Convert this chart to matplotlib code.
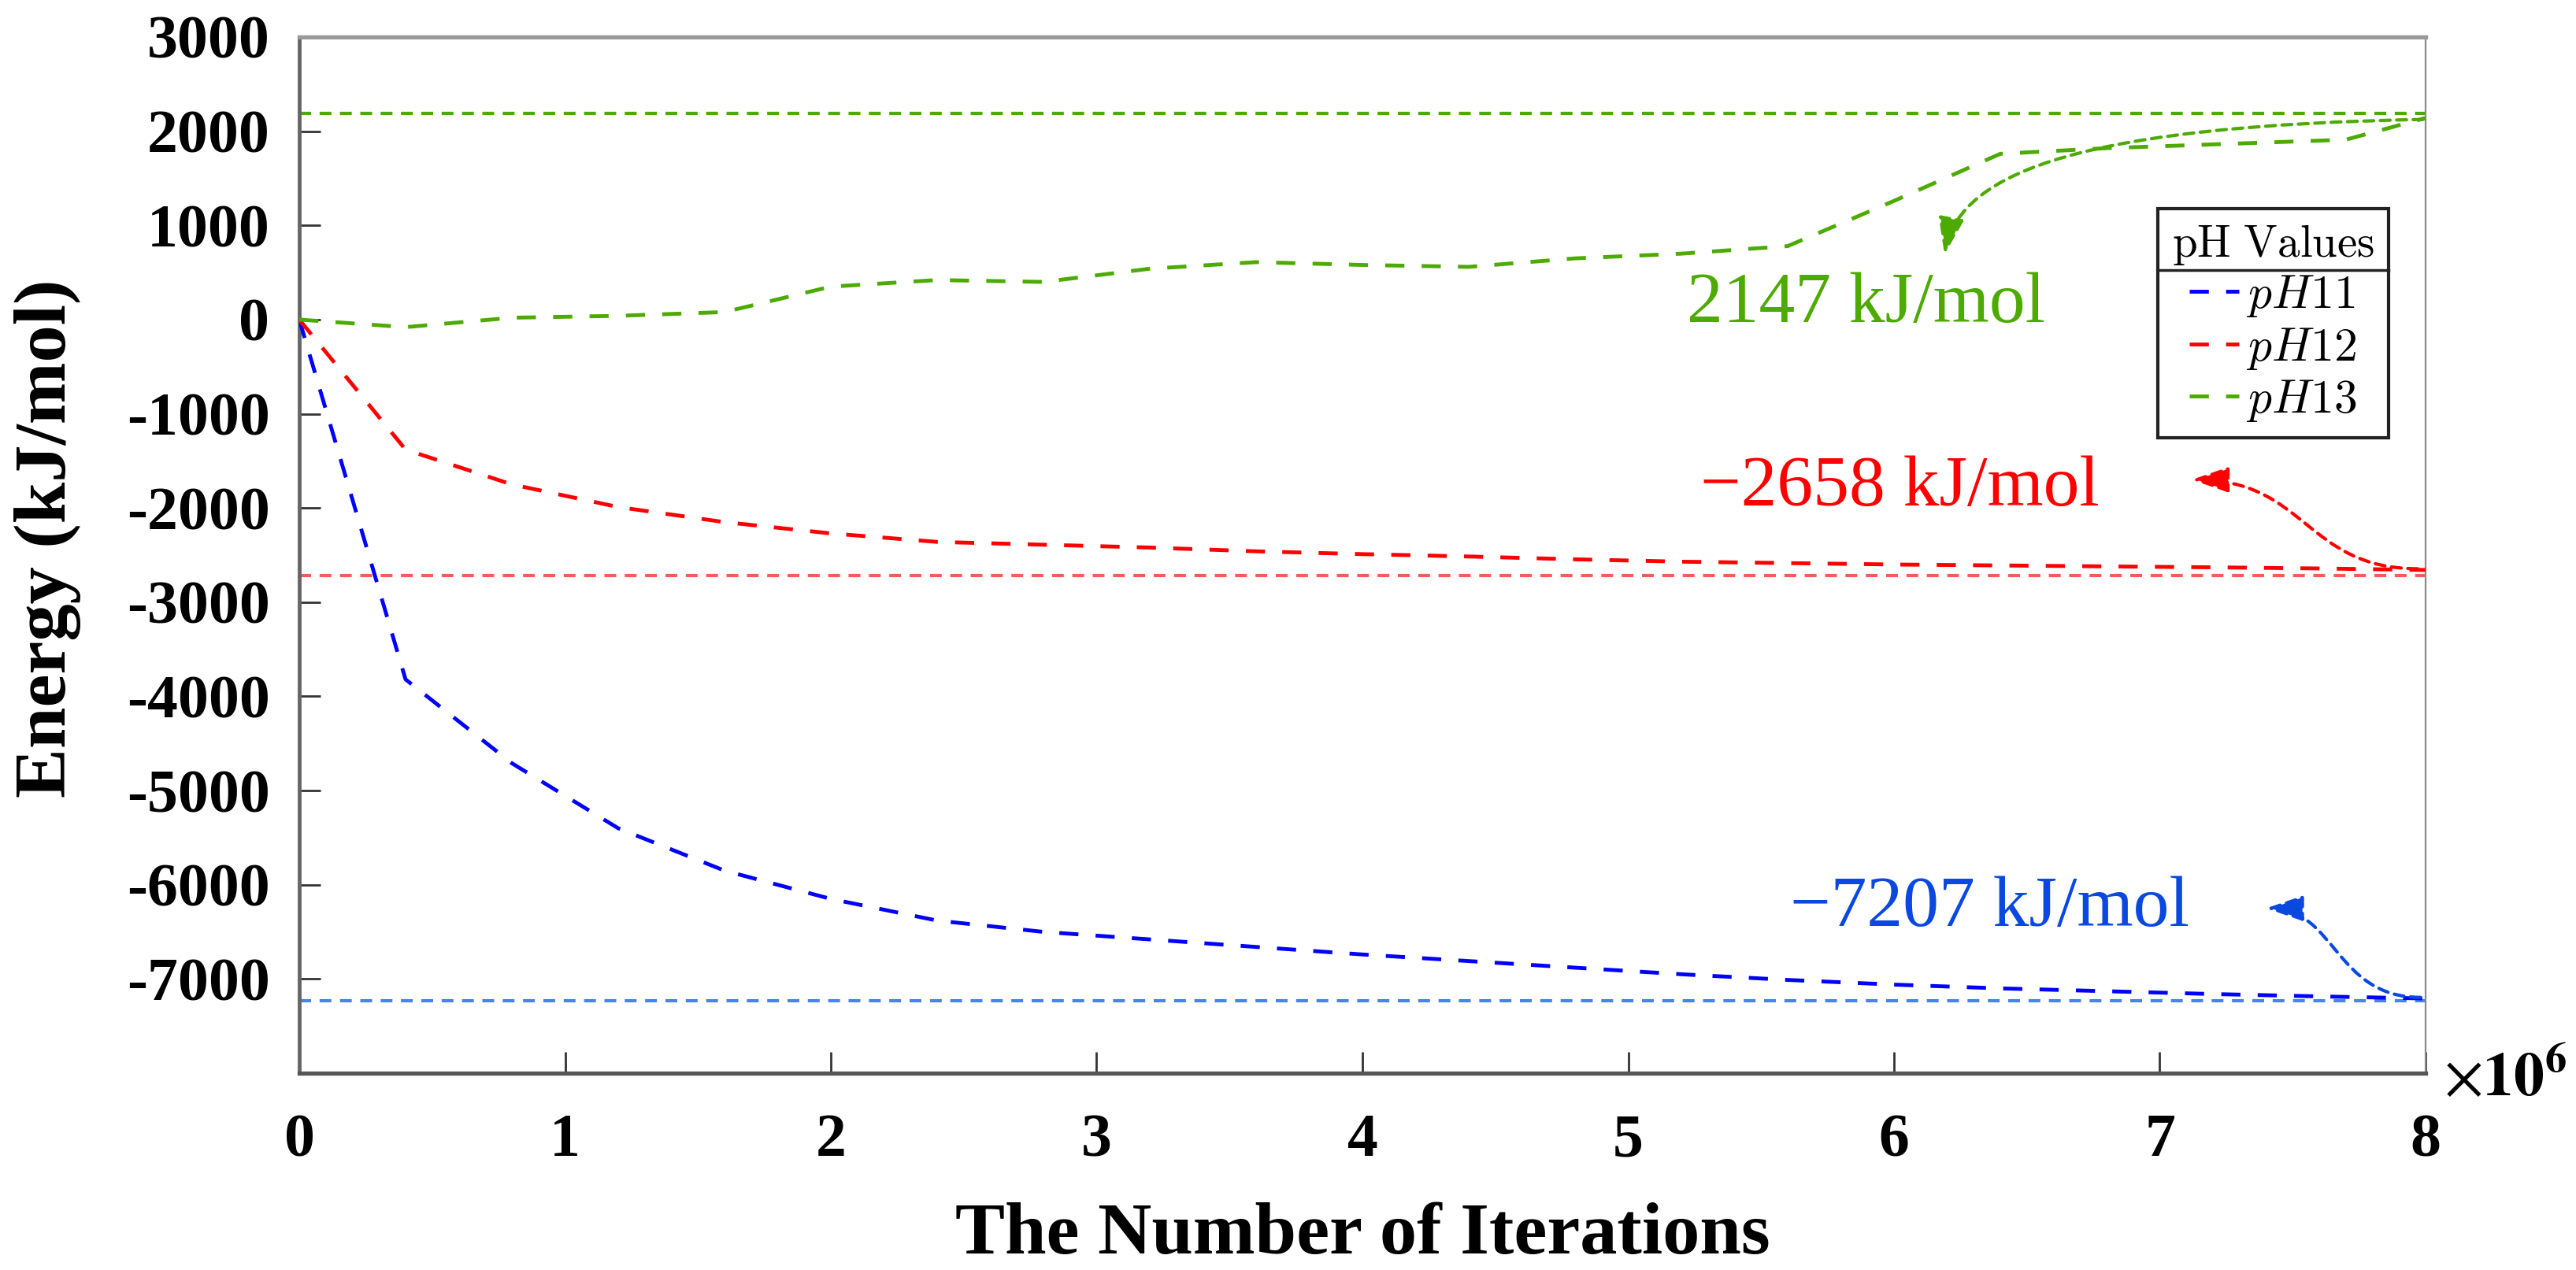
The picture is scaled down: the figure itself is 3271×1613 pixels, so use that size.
import matplotlib
matplotlib.use("Agg")
import matplotlib.pyplot as plt
from matplotlib.patches import FancyArrowPatch
from matplotlib.path import Path
from matplotlib.lines import Line2D
from matplotlib.font_manager import FontProperties

plt.rcParams['axes.unicode_minus'] = False
plt.rcParams['font.family'] = ['Liberation Serif', 'DejaVu Serif']

# ---------------- data (iterations in millions, energy in kJ/mol) ----------------
iters_ph11 = [0, 0.4, 0.8, 1.2, 1.6, 2.0, 2.4, 2.8, 3.2, 3.6, 4.0, 4.4, 4.8, 5.2, 5.6, 6.0, 6.4, 6.8, 7.2, 7.6, 8.0]
energy_ph11 = [0, -3820, -4710, -5400, -5850, -6150, -6380, -6500, -6580, -6660, -6740, -6810, -6880, -6950, -7010, -7060, -7100, -7130, -7160, -7185, -7207]

iters_ph12 = [0, 0.4, 0.8, 1.2, 1.6, 2.0, 2.4, 2.8, 3.2, 3.6, 4.0, 4.4, 4.8, 5.2, 5.6, 6.0, 6.4, 6.8, 7.2, 7.6, 8.0]
energy_ph12 = [0, -1380, -1750, -1990, -2150, -2270, -2360, -2390, -2420, -2460, -2490, -2515, -2545, -2570, -2585, -2600, -2610, -2620, -2630, -2642, -2658]

iters_ph13 = [0, 0.4, 0.8, 1.2, 1.6, 2.0, 2.4, 2.8, 3.2, 3.6, 4.0, 4.4, 4.8, 5.2, 5.6, 6.0, 6.4, 6.8, 7.2, 7.7, 8.0]
energy_ph13 = [0, -80, 20, 40, 80, 350, 420, 400, 540, 610, 580, 560, 650, 700, 780, 1260, 1760, 1820, 1860, 1910, 2140]

series_labels = ['$pH11$', '$pH12$', '$pH13$']
series_colors = ['#0000FF', '#FF0000', '#4CAA00']

# converged reference levels (dotted lines)
ref_levels = [-7235, -2720, 2193]
ref_colors = ['#4A84E6', '#FF5A5A', '#4CAA00']

# annotations
annot_texts = ['\u22127207 kJ/mol', '\u22122658 kJ/mol', '2147 kJ/mol']
annot_colors = ['#0A48E0', '#FF0000', '#4CAA00']
annot_text_pos = [(5.61, -6440), (5.27, -1970), (5.22, -30)]
# cubic bezier control points for the curved arrows (start -> tip)
arrow_ctrl = [
    [(7.98, -7195), (7.66, -7195), (7.66, -6250), (7.40, -6250)],
    [(7.97, -2645), (7.55, -2645), (7.55, -1700), (7.12, -1700)],
    [(7.99, 2125), (6.75, 2060), (6.25, 1600), (6.19, 690)],
]

x_ticks = [0, 1, 2, 3, 4, 5, 6, 7, 8]
y_ticks = [-7000, -6000, -5000, -4000, -3000, -2000, -1000, 0, 1000, 2000, 3000]
x_label = 'The Number of Iterations'
y_label = 'Energy (kJ/mol)'
legend_title = r'$\mathrm{pH\ Values}$'

# ---------------- figure ----------------
W, H = 3271, 1613
fig = plt.figure(figsize=(W / 100, H / 100), dpi=100)
L, R, T, B = 380, 3080, 47, 1363
ax = fig.add_axes([L / W, 1 - B / H, (R - L) / W, (B - T) / H])

for lv, c in zip(ref_levels, ref_colors):
    ax.axhline(lv, color=c, lw=3, ls=(0, (3.6, 2.6)), zorder=2)

lines = []
for xs, ys, lab, c in zip([iters_ph11, iters_ph12, iters_ph13],
                          [energy_ph11, energy_ph12, energy_ph13],
                          series_labels, series_colors):
    ln, = ax.plot(xs, ys, color=c, lw=3.5, ls=(0, (5, 4.5)), label=lab, zorder=3)
    lines.append(ln)

for txt, c, (tx, ty) in zip(annot_texts, annot_colors, annot_text_pos):
    ax.text(tx, ty, txt, color=c, fontsize=66, ha='left', va='baseline',
            family=['Liberation Serif', 'DejaVu Serif'])

for pts, c in zip(arrow_ctrl, annot_colors):
    p = Path(pts, [Path.MOVETO, Path.CURVE4, Path.CURVE4, Path.CURVE4])
    arr = FancyArrowPatch(path=p, arrowstyle='-|>,head_length=1.3,head_width=0.45',
                          mutation_scale=22, lw=3, ls=(0, (3, 2)), color=c, zorder=4)
    ax.add_patch(arr)

ax.set_xlim(0, 8)
ax.set_ylim(-8000, 3000)
ax.set_xticks(x_ticks)
ax.set_yticks(y_ticks)
ax.set_xticklabels([str(v) for v in x_ticks])
ax.set_yticklabels([str(v) for v in y_ticks])
ax.tick_params(axis='both', direction='in', length=19.5, width=2, color='#333333',
               labelsize=56, top=False, right=False)
ax.tick_params(axis='y', pad=27)
ax.tick_params(axis='x', pad=37)
for lab in ax.get_xticklabels() + ax.get_yticklabels():
    lab.set_fontweight('bold')

ax.spines['left'].set_color('#666666')
ax.spines['left'].set_linewidth(3.5)
ax.spines['bottom'].set_color('#555555')
ax.spines['bottom'].set_linewidth(3.8)
ax.spines['top'].set_color('#999999')
ax.spines['top'].set_linewidth(3.8)
ax.spines['right'].set_color('#8a8a8a')
ax.spines['right'].set_linewidth(1.6)

ax.set_xlabel(x_label, fontsize=68, fontweight='bold')
ax.xaxis.set_label_coords(0.5, (B - 1592) / (B - T))
ax.xaxis.label.set_va('baseline')
ax.set_ylabel(y_label, fontsize=68, fontweight='bold')
ax.yaxis.set_label_coords((83 - L) / (R - L), 0.516)
ax.yaxis.label.set_va('baseline')

ax.text(1 + (3103 - R) / (R - L), (B - 1392) / (B - T), r'$\times\mathbf{10^6}$',
        transform=ax.transAxes, fontsize=56, ha='left', va='baseline', math_fontfamily='stix')

leg_prop = FontProperties(size=43, math_fontfamily='cm')
leg = ax.legend(handles=lines, labels=series_labels, loc='upper left',
                bbox_to_anchor=(2740 / W, 1 - 265 / H), bbox_transform=fig.transFigure,
                borderaxespad=0, borderpad=0.3, handlelength=1.05, handletextpad=0.15,
                labelspacing=0.14, fancybox=False, prop=leg_prop, title=legend_title,
                title_fontproperties=FontProperties(size=41, math_fontfamily='cm'),
                framealpha=1)
leg.get_frame().set_edgecolor('#222222')
leg.get_frame().set_linewidth(3)

fig.canvas.draw()
r = fig.canvas.get_renderer()
fb = leg.get_frame().get_window_extent(r)
tb = leg.get_title().get_window_extent(r)
tx0 = leg.get_texts()[0].get_window_extent(r)
ysep = (tb.y0 + tx0.y1) / 2
fig.add_artist(Line2D([fb.x0 / W, fb.x1 / W], [ysep / H, ysep / H], transform=fig.transFigure,
                      color='#222222', lw=2.5, zorder=10))

fig.savefig('out.png', dpi=100)
